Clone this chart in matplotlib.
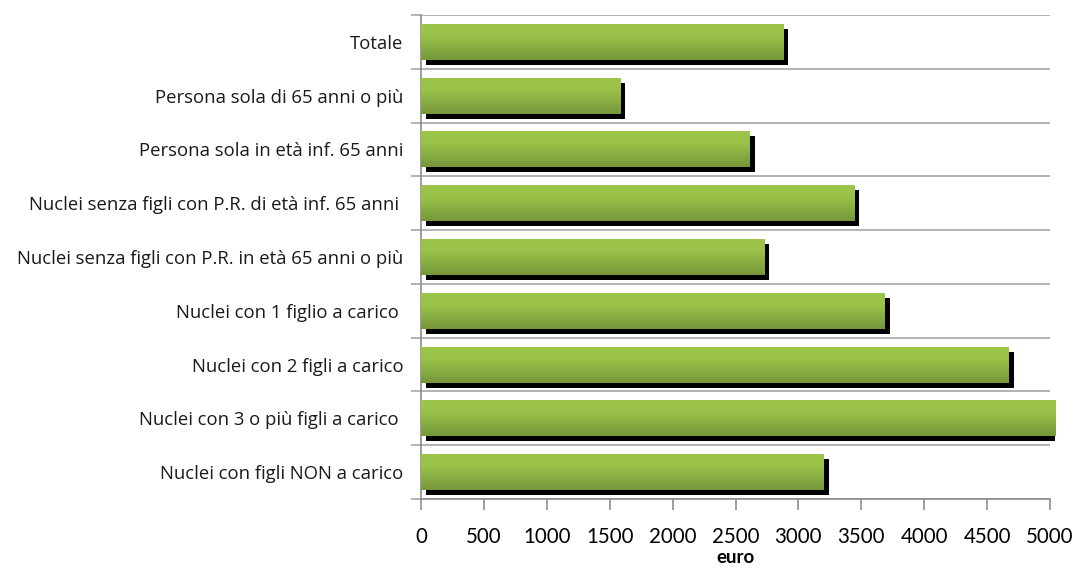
import numpy as np
import matplotlib
matplotlib.use('Agg')
import matplotlib.pyplot as plt
from matplotlib.transforms import ScaledTranslation
from matplotlib.patches import Rectangle
from matplotlib.colors import LinearSegmentedColormap

categories = [
    "Totale",
    "Persona sola di 65 anni o più",
    "Persona sola in età inf. 65 anni",
    "Nuclei senza figli con P.R. di età inf. 65 anni ",
    "Nuclei senza figli con P.R. in età 65 anni o più",
    "Nuclei con 1 figlio a carico ",
    "Nuclei con 2 figli a carico",
    "Nuclei con 3 o più figli a carico ",
    "Nuclei con figli NON a carico",
]
values = [2878, 1582, 2613, 3442, 2727, 3688, 4674, 5040, 3203]
xticks = list(range(0, 5001, 500))
xlabel = "euro"

plt.rcParams['font.family'] = ['Open Sans', 'DejaVu Sans']

fig = plt.figure(figsize=(10.75, 5.68), dpi=100)
ax = fig.add_axes([421/1075, 1-499/568, 629/1075, 484/568])

n = len(categories)
ypos = np.arange(n)[::-1]
h = 0.67

grid_c = '#A6A6A6'
spine_c = '#8C8C8C'

# clip rectangle slightly beyond the plot area (bars exceeding the max are cut there)
clip_rect = Rectangle((0, -0.05), 1.0075, 1.1, transform=ax.transAxes, visible=False)
ax.add_patch(clip_rect)

# shadows
shadow_tr = ax.transData + ScaledTranslation(0.05, -0.05, fig.dpi_scale_trans)
sh = ax.barh(ypos, values, height=h, color='black', zorder=2, transform=shadow_tr)
for p in sh:
    p.set_clip_path(clip_rect)

# gradient bars
cmap = LinearSegmentedColormap.from_list('g', [(0, '#9DC54B'), (0.35, '#9AC249'), (1, '#76973B')])
grad = np.linspace(0, 1, 100).reshape(-1, 1)
bars = ax.barh(ypos, values, height=h, color='none', zorder=3)
for p, y, v in zip(bars, ypos, values):
    im = ax.imshow(grad, extent=(0, v, y - h/2, y + h/2), origin='upper', cmap=cmap,
                   aspect='auto', zorder=3, interpolation='bilinear')
    im.set_clip_box(None)
    im.set_clip_path(p)
    p.set_clip_path(clip_rect)

ax.set_xlim(0, 5000)
ax.set_ylim(-0.5, n - 0.5)

# gridlines at category boundaries
bounds = np.arange(n + 1) - 0.5
ax.set_yticks(bounds)
ax.set_yticklabels([])
ax.yaxis.grid(True, color=grid_c, linewidth=1.2, zorder=1)
ax.tick_params(axis='y', which='major', length=7, width=1.2, color=grid_c, direction='out')
ax.set_yticks(ypos, minor=True)
ax.set_yticklabels(categories, minor=True, fontsize=13.3, color='#1a1a1a')
ax.tick_params(axis='y', which='minor', length=0, pad=12.5)

ax.set_xticks(xticks)
ax.set_xticklabels([str(t) for t in xticks], fontsize=14.8, color='black',
                   family=['Lato', 'DejaVu Sans'])
ax.tick_params(axis='x', length=8, width=1.2, color=spine_c, pad=12.5, direction='out')

# x-axis title, centred under the plot area
fig.text(0.5 * (421 + 1050) / 1075, (568 - 563) / 568, xlabel, ha='center', va='baseline',
         fontsize=13.5, fontweight='bold', family=['Lato', 'DejaVu Sans'])

for s in ['top', 'right']:
    ax.spines[s].set_visible(False)
for s in ['left', 'bottom']:
    ax.spines[s].set_color(spine_c)
    ax.spines[s].set_linewidth(1.2)
ax.set_axisbelow(True)

fig.savefig('out.png', dpi=100)
